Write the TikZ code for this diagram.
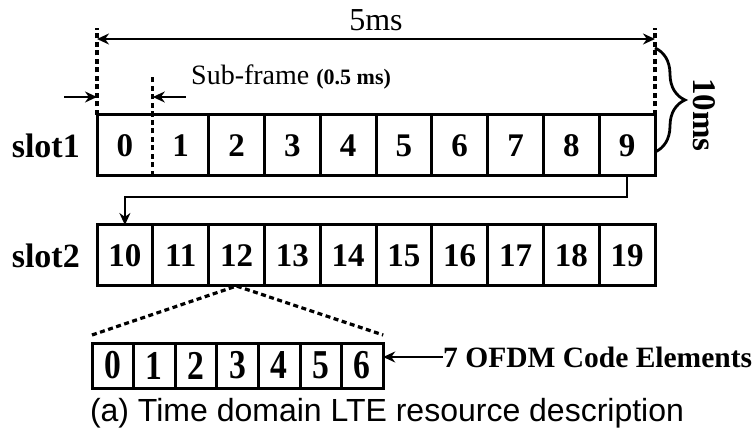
\documentclass[tikz,border=0pt]{standalone}
\usepackage{fontspec}
\setmainfont{Liberation Serif}
\newfontfamily\capfont{Liberation Sans}
\usepackage{graphicx}
\usetikzlibrary{arrows.meta,decorations.pathreplacing,positioning}
\tikzset{
  cell/.style={draw, line width=3pt, inner sep=0pt, outer sep=0pt,
    minimum width=55.8pt, minimum height=61pt,
    font=\fontsize{33}{33}\selectfont\bfseries},
  tinycell/.style={cell, minimum width=41.6pt, minimum height=45pt,
    font=\fontsize{41}{41}\selectfont\bfseries},
  slotlabel/.style={inner sep=0pt, font=\fontsize{34}{34}\selectfont\bfseries},
  guide/.style={line width=3.2pt, dash pattern=on 5pt off 3.5pt},
  tip/.style={line width=2.5pt, -{Stealth[length=12pt,width=11pt]}},
}
\newcommand{\narrow}[1]{\scalebox{0.82}[1]{#1}}

\begin{document}
\begin{tikzpicture}[x=1pt,y=1pt]
  \useasboundingbox (0,0) rectangle (752,-430);
  % the two slots
  \foreach \i in {0,...,9}
    \node[cell] (s\i) at ({97+55.8*(\i+0.5)},-145.5) {\i};
  \foreach \i in {10,...,19}
    \node[cell] (s\i) at ({97+55.8*(\i-9.5)},-255.5) {\i};
  \node[slotlabel, left=17pt of s0] (slotA) {slot1};
  \node[slotlabel, left=17pt of s10] (slotB) {slot2};
  % one sub-frame, seven symbols
  \foreach \i in {0,...,6}
    \node[tinycell] (e\i) at ({92+41.6*(\i+0.5)},-365.5) {\narrow{\i}};

  % 5ms span
  \coordinate (tl) at ([yshift=87pt]s0.north west);
  \coordinate (tr) at ([yshift=87pt]s9.north east);
  \draw[guide] (s0.north west) -- (tl);
  \draw[guide] (s9.north east) -- (tr);
  \draw[tip, {Stealth[length=12pt,width=11pt]}-{Stealth[length=12pt,width=11pt]}]
    ([yshift=-11pt]tl) -- ([yshift=-11pt]tr)
    node[midway, above=7pt, inner sep=0pt, font=\fontsize{32}{32}\selectfont] (span) {5ms};

  % sub-frame width
  \draw[white, line width=3.2pt] ([yshift=-1.6pt]s0.north east) -- ([yshift=1.6pt]s0.south east);
  \draw[guide] (s0.south east) -- ++(0,101);
  \draw[tip] ([xshift=-33pt,yshift=18pt]s0.north west) -- ([yshift=18pt]s0.north west);
  \draw[tip] ([xshift=33pt,yshift=18pt]s0.north east) -- ([yshift=18pt]s0.north east);
  \node[anchor=base west, inner sep=0pt] (sub) at (191,-85)
    {\fontsize{28}{28}\selectfont Sub-frame {\fontsize{22}{22}\selectfont\bfseries (0.5 ms)}};

  % 10ms brace
  \draw[line width=2.8pt, decorate, decoration={brace, amplitude=30pt, aspect=0.5}]
    ([yshift=67pt]s9.north east) -- ([yshift=-6.5pt]s9.east);
  \node[rotate=-90, inner sep=0pt, font=\fontsize{33}{33}\selectfont\bfseries] (ten) at (704,-115) {10ms};

  % slot1 -> slot2
  \draw[tip] (s9.south) -- ++(0,-21) -| (s10.north);

  % zoom on sub-frame 12
  \draw[guide] ([yshift=8pt]e0.north west) -- (s12.south) -- ([yshift=8pt]e6.north east);
  \node[anchor=west, inner sep=0pt, font=\fontsize{29.5}{29.5}\selectfont\bfseries] (ofdm) at (443,-357) {7 OFDM Code Elements};
  \draw[tip] (ofdm.west) -- (ofdm.west -| e6.east);

  \node[anchor=base, inner sep=0pt, font=\capfont\fontsize{32}{32}\selectfont] (caption) at (387,-421)
    {(a) Time domain LTE resource description};
\end{tikzpicture}
\end{document}
